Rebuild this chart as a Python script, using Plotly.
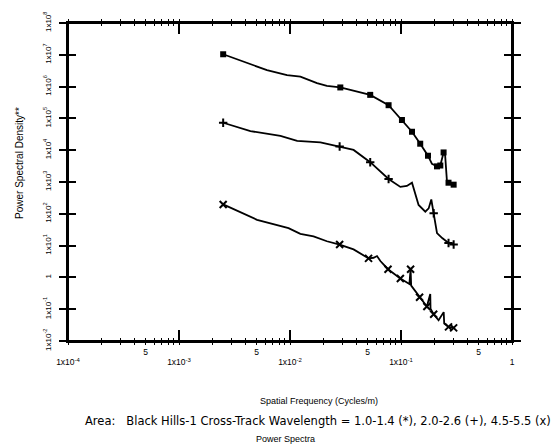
import plotly.graph_objects as go

# ---- data ----
# Curve 1: wavelength 1.0-1.4 (*)
f1 = [2.5e-3, 3.82e-3, 6.2e-3, 9.4e-3, 0.0124, 0.0175, 0.0215, 0.0284, 0.0528, 0.0773,
      0.102, 0.1256, 0.149, 0.175, 0.190, 0.211, 0.226, 0.242, 0.250, 0.259, 0.268, 0.298]
p1 = [1.04e7, 6.0e6, 3.3e6, 2.3e6, 2.06e6, 1.28e6, 1.05e6, 9.4e5, 5.5e5, 2.6e5,
      8.9e4, 3.8e4, 1.6e4, 6.7e3, 3.7e3, 3.1e3, 3.3e3, 8.5e3, 6.7e3, 1.13e3, 950, 824]
f1_mk = [2.5e-3, 0.0284, 0.0528, 0.0773, 0.102, 0.1256, 0.149, 0.175, 0.211, 0.226, 0.242, 0.268, 0.298]
p1_mk = [1.04e7, 9.4e5, 5.5e5, 2.6e5, 8.9e4, 3.8e4, 1.6e4, 6.7e3, 3.1e3, 3.3e3, 8.5e3, 950, 824]

# Curve 2: wavelength 2.0-2.6 (+)
f2 = [2.5e-3, 4.4e-3, 8.2e-3, 0.0116, 0.0188, 0.028, 0.0374, 0.0528, 0.0773, 0.0987,
      0.113, 0.1256, 0.1346, 0.144, 0.1656, 0.1775, 0.1875, 0.197, 0.211, 0.235, 0.268, 0.298]
p2 = [7.3e4, 4.0e4, 2.8e4, 1.95e4, 1.75e4, 1.31e4, 1.02e4, 4.2e3, 1.24e3, 700,
      750, 950, 434, 189, 117, 148, 282, 104, 24.8, 17.3, 12.1, 10.8]
f2_mk = [2.5e-3, 0.028, 0.0528, 0.0773, 0.197, 0.268, 0.298]
p2_mk = [7.3e4, 1.31e4, 4.2e3, 1.24e3, 104, 12.1, 10.8]

# Curve 3: wavelength 4.5-5.5 (x)
f3 = [2.5e-3, 5.05e-3, 9.7e-3, 0.0124, 0.0163, 0.0215, 0.028, 0.0374, 0.051, 0.0566,
      0.0608, 0.0652, 0.0764, 0.0987, 0.119, 0.122, 0.1235, 0.147, 0.171, 0.1835, 0.1845,
      0.197, 0.218, 0.2425, 0.245, 0.268, 0.298]
p3 = [197, 64.6, 35.5, 23.4, 19.6, 13.7, 10.8, 7.57, 3.97, 4.15,
      4.69, 3.28, 1.81, 0.92, 0.62, 1.81, 0.55, 0.238, 0.122, 0.30, 0.104,
      0.069, 0.045, 0.081, 0.0355, 0.0278, 0.0259]
f3_mk = [2.5e-3, 0.028, 0.051, 0.0764, 0.0987, 0.122, 0.147, 0.171, 0.197, 0.268, 0.298]
p3_mk = [197, 10.8, 3.97, 1.81, 0.92, 1.81, 0.238, 0.122, 0.069, 0.0278, 0.0259]

# Axis ticks
x_decades = [1e-4, 1e-3, 1e-2, 1e-1, 1]
x_decade_text = ["1x10<sup>-4</sup>", "1x10<sup>-3</sup>", "1x10<sup>-2</sup>", "1x10<sup>-1</sup>", "1"]
x_fives = [5e-4, 5e-3, 5e-2, 5e-1]
x_five_text = ["5", "5", "5", "5"]
y_decades = [1e-2, 1e-1, 1, 1e1, 1e2, 1e3, 1e4, 1e5, 1e6, 1e7, 1e8]
y_decade_text = ["1x10<sup>-2</sup>", "1x10<sup>-1</sup>", "1", "1x10<sup>1</sup>", "1x10<sup>2</sup>",
                 "1x10<sup>3</sup>", "1x10<sup>4</sup>", "1x10<sup>5</sup>", "1x10<sup>6</sup>",
                 "1x10<sup>7</sup>", "1x10<sup>8</sup>"]

x_minor = [m * d for d in [1e-4, 1e-3, 1e-2, 1e-1] for m in range(2, 10)]
x_minor_outer = [v for v in x_minor + x_decades if all(abs(v - f) / f > 1e-9 for f in x_fives)]

FONT = "Liberation Sans, Arial, sans-serif"
LW = 1.8

fig = go.Figure()
# lines on the main (x, y) axes
fig.add_trace(go.Scatter(x=f1, y=p1, mode="lines", line=dict(color="black", width=LW), showlegend=False))
fig.add_trace(go.Scatter(x=f2, y=p2, mode="lines", line=dict(color="black", width=LW), showlegend=False))
fig.add_trace(go.Scatter(x=f3, y=p3, mode="lines", line=dict(color="black", width=LW), showlegend=False))
# markers on the overlaid (x2, y2) axes, which share exactly the same ranges
fig.add_trace(go.Scatter(x=f1_mk, y=p1_mk, mode="markers", xaxis="x2", yaxis="y2",
                         marker=dict(symbol="square", size=6, color="black"), showlegend=False))
fig.add_trace(go.Scatter(x=f2_mk, y=p2_mk, mode="markers", xaxis="x2", yaxis="y2",
                         marker=dict(symbol="cross-thin", size=6, color="black",
                                     line=dict(color="black", width=2)), showlegend=False))
fig.add_trace(go.Scatter(x=f3_mk, y=p3_mk, mode="markers", xaxis="x2", yaxis="y2",
                         marker=dict(symbol="x-thin", size=7, color="black",
                                     line=dict(color="black", width=2)), showlegend=False))

fig.update_layout(
    width=555, height=444,
    margin=dict(l=68, r=43, t=19, b=103),
    paper_bgcolor="white", plot_bgcolor="white",
    font=dict(family=FONT, color="black", size=8),
    xaxis=dict(type="log", range=[-4, 0], showgrid=False, zeroline=False,
               showline=True, linecolor="black", linewidth=2, mirror="ticks",
               ticks="inside", ticklen=11, tickwidth=1.5, tickcolor="black",
               tickmode="array", tickvals=x_decades, ticktext=x_decade_text,
               tickfont=dict(size=8.5), ticklabelstandoff=12,
               minor=dict(tickmode="array", tickvals=x_minor, ticks="inside",
                          ticklen=3, tickwidth=1.2, tickcolor="black", showgrid=False)),
    xaxis2=dict(type="log", range=[-4, 0], overlaying="x", anchor="y2", side="bottom",
                showgrid=False, zeroline=False, showline=False, mirror="ticks",
                ticks="outside", ticklen=3, tickwidth=1.2, tickcolor="black",
                tickmode="array", tickvals=x_fives, ticktext=x_five_text,
                tickfont=dict(size=8.5),
                minor=dict(tickmode="array", tickvals=x_minor_outer, ticks="outside",
                           ticklen=3, tickwidth=1.2, tickcolor="black", showgrid=False)),
    yaxis=dict(type="log", range=[-2, 8], showgrid=False, zeroline=False,
               showline=True, linecolor="black", linewidth=2, mirror="ticks",
               ticks="inside", ticklen=8, tickwidth=1.5, tickcolor="black",
               tickmode="array", tickvals=y_decades, ticktext=y_decade_text,
               tickangle=-90, tickfont=dict(size=8), ticklabelstandoff=12),
    yaxis2=dict(type="log", range=[-2, 8], overlaying="y", anchor="x2", side="left",
                showgrid=False, zeroline=False, showline=False, mirror="ticks",
                ticks="outside", ticklen=8, tickwidth=1.5, tickcolor="black",
                tickmode="array", tickvals=y_decades, showticklabels=False),
    shapes=[dict(type="rect", xref="paper", yref="paper", x0=0, x1=1, y0=0, y1=1,
                 line=dict(color="black", width=2), layer="above")],
)

annotations = [
    dict(text="Power Spectral Density**", x=(20 - 68) / 444, xref="paper", y=0.56, yref="paper",
         textangle=-90, showarrow=False, font=dict(size=10), xanchor="center", yanchor="middle"),
    dict(text="Spatial Frequency (Cycles/m)", x=0.565, y=-0.189, xref="paper", yref="paper",
         showarrow=False, font=dict(size=9), xanchor="center", yanchor="middle"),
    dict(text="Area:\u00a0\u00a0\u00a0Black Hills-1 Cross-Track Wavelength = 1.0-1.4 (*), 2.0-2.6 (+), 4.5-5.5 (x)",
         x=(83 - 68) / 444, y=-0.251, xref="paper", yref="paper",
         showarrow=False, font=dict(size=11.5, family="DejaVu Sans, sans-serif"),
         xanchor="left", yanchor="middle"),
    dict(text="Power Spectra", x=0.489, y=-0.307, xref="paper", yref="paper",
         showarrow=False, font=dict(size=9), xanchor="center", yanchor="middle"),
]
fig.update_layout(annotations=annotations)

fig.write_html("out.html", config={"displayModeBar": False},
               post_script="document.body.style.margin='0';document.body.style.padding='0';")
